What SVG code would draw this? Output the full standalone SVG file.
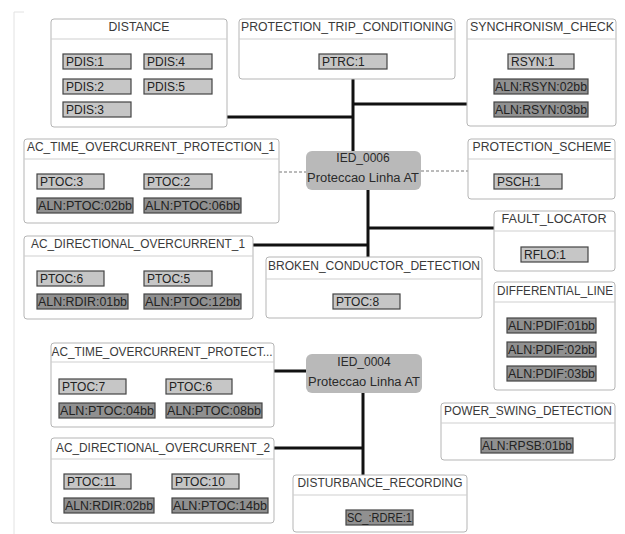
<svg xmlns="http://www.w3.org/2000/svg" width="625" height="534" viewBox="0 0 625 534">
<style>
text{font-family:"Liberation Sans",Arial,sans-serif;fill:#333}
.box{fill:#fff;stroke:#b5b5b5;stroke-width:1}
.div{stroke:#cfcfcf;stroke-width:1}
.title{font-size:12.5px;text-anchor:middle;fill:#3a3a3a}
.chip{fill:#c6c6c6;stroke:#444;stroke-width:1.2}
.aln{fill:#909090;stroke:#444;stroke-width:1.2}
.ct{font-size:12px;fill:#222}
.ied{fill:#b9b9b9}
.it{font-size:12px;text-anchor:middle;fill:#2a2a2a}
.wire{stroke:#111;stroke-width:3;fill:none}
.dash{stroke:#777;stroke-width:1;stroke-dasharray:3,2;fill:none}
</style>
<rect width="625" height="534" fill="#fff"/>
<path d="M14,12 V534 M14,12 H24" stroke="#e2e2e2" stroke-width="1" fill="none"/>
<g id="connectors">
<path class="wire" d="M353,79 V151"/>
<path class="wire" d="M227,117 H353"/>
<path class="wire" d="M353,104 H467"/>
<path class="wire" d="M368,190 V258"/>
<path class="wire" d="M253,245 H368"/>
<path class="wire" d="M368,228 H494"/>
<path class="dash" d="M279,172 H306"/>
<path class="dash" d="M421,171 H468"/>
<path class="wire" d="M274,371 H306"/>
<path class="wire" d="M363,393 V475"/>
<path class="wire" d="M274,448 H363"/>
</g>
<g id="ied_0006">
<rect class="ied" x="306" y="151" width="115" height="39" rx="6"/>
<text class="it" x="363" y="162">IED_0006</text>
<text class="it" x="363" y="182" textLength="112" lengthAdjust="spacingAndGlyphs">Proteccao Linha AT</text>
</g>
<g id="ied_0004">
<rect class="ied" x="306" y="354" width="116" height="39" rx="6"/>
<text class="it" x="364" y="366">IED_0004</text>
<text class="it" x="364" y="386" textLength="112" lengthAdjust="spacingAndGlyphs">Proteccao Linha AT</text>
</g>
<g id="distance">
<rect class="box" x="51" y="19" width="176" height="108" rx="3"/>
<line class="div" x1="51" y1="39" x2="227" y2="39"/>
<text class="title" x="139" y="30.5" textLength="61" lengthAdjust="spacingAndGlyphs">DISTANCE</text>
<rect class="chip" x="63" y="54" width="68" height="15"/><text class="ct" x="66" y="66">PDIS:1</text>
<rect class="chip" x="144" y="54" width="68" height="15"/><text class="ct" x="147" y="66">PDIS:4</text>
<rect class="chip" x="63" y="79" width="68" height="15"/><text class="ct" x="66" y="91">PDIS:2</text>
<rect class="chip" x="144" y="79" width="68" height="15"/><text class="ct" x="147" y="91">PDIS:5</text>
<rect class="chip" x="63" y="102" width="68" height="15"/><text class="ct" x="66" y="114">PDIS:3</text>
</g>
<g id="protection_trip_conditioning">
<rect class="box" x="239" y="19" width="216" height="60" rx="3"/>
<line class="div" x1="239" y1="39" x2="455" y2="39"/>
<text class="title" x="347" y="30.5" textLength="212" lengthAdjust="spacingAndGlyphs">PROTECTION_TRIP_CONDITIONING</text>
<rect class="chip" x="319" y="54" width="68" height="15"/><text class="ct" x="322" y="66">PTRC:1</text>
</g>
<g id="synchronism_check">
<rect class="box" x="467" y="19" width="149" height="107" rx="3"/>
<line class="div" x1="467" y1="39" x2="616" y2="39"/>
<text class="title" x="542" y="30.5" textLength="144" lengthAdjust="spacingAndGlyphs">SYNCHRONISM_CHECK</text>
<rect class="chip" x="508" y="54" width="66" height="15"/><text class="ct" x="511" y="66">RSYN:1</text>
<rect class="aln" x="494" y="79" width="94" height="15"/><text class="ct" x="495" y="91" textLength="92" lengthAdjust="spacingAndGlyphs">ALN:RSYN:02bb</text>
<rect class="aln" x="494" y="102" width="94" height="15"/><text class="ct" x="495" y="114" textLength="92" lengthAdjust="spacingAndGlyphs">ALN:RSYN:03bb</text>
</g>
<g id="ac_time_overcurrent_protection_1">
<rect class="box" x="24" y="139" width="255" height="84" rx="3"/>
<line class="div" x1="24" y1="159" x2="279" y2="159"/>
<text class="title" x="151" y="150.5" textLength="248" lengthAdjust="spacingAndGlyphs">AC_TIME_OVERCURRENT_PROTECTION_1</text>
<rect class="chip" x="37" y="174" width="67" height="15"/><text class="ct" x="40" y="186">PTOC:3</text>
<rect class="chip" x="144" y="174" width="68" height="15"/><text class="ct" x="147" y="186">PTOC:2</text>
<rect class="aln" x="37" y="198" width="96" height="15"/><text class="ct" x="38" y="210" textLength="94" lengthAdjust="spacingAndGlyphs">ALN:PTOC:02bb</text>
<rect class="aln" x="144" y="198" width="97" height="15"/><text class="ct" x="145" y="210" textLength="95" lengthAdjust="spacingAndGlyphs">ALN:PTOC:06bb</text>
</g>
<g id="protection_scheme">
<rect class="box" x="468" y="139" width="147" height="60" rx="3"/>
<line class="div" x1="468" y1="159" x2="615" y2="159"/>
<text class="title" x="542" y="150.5" textLength="139" lengthAdjust="spacingAndGlyphs">PROTECTION_SCHEME</text>
<rect class="chip" x="494" y="174" width="68" height="15"/><text class="ct" x="497" y="186">PSCH:1</text>
</g>
<g id="fault_locator">
<rect class="box" x="494" y="211" width="121" height="60" rx="3"/>
<line class="div" x1="494" y1="231" x2="615" y2="231"/>
<text class="title" x="554" y="222.5" textLength="105" lengthAdjust="spacingAndGlyphs">FAULT_LOCATOR</text>
<rect class="chip" x="521" y="247" width="67" height="15"/><text class="ct" x="524" y="259">RFLO:1</text>
</g>
<g id="ac_directional_overcurrent_1">
<rect class="box" x="24" y="236" width="229" height="83" rx="3"/>
<line class="div" x1="24" y1="256" x2="253" y2="256"/>
<text class="title" x="138" y="247.5" textLength="214" lengthAdjust="spacingAndGlyphs">AC_DIRECTIONAL_OVERCURRENT_1</text>
<rect class="chip" x="37" y="271" width="67" height="15"/><text class="ct" x="40" y="283">PTOC:6</text>
<rect class="chip" x="144" y="271" width="68" height="15"/><text class="ct" x="147" y="283">PTOC:5</text>
<rect class="aln" x="37" y="294" width="91" height="15"/><text class="ct" x="38" y="306" textLength="89" lengthAdjust="spacingAndGlyphs">ALN:RDIR:01bb</text>
<rect class="aln" x="144" y="294" width="97" height="15"/><text class="ct" x="145" y="306" textLength="95" lengthAdjust="spacingAndGlyphs">ALN:PTOC:12bb</text>
</g>
<g id="broken_conductor_detection">
<rect class="box" x="266" y="257" width="216" height="61" rx="3"/>
<line class="div" x1="266" y1="279" x2="482" y2="279"/>
<text class="title" x="374" y="270" textLength="212" lengthAdjust="spacingAndGlyphs">BROKEN_CONDUCTOR_DETECTION</text>
<rect class="chip" x="333" y="294" width="67" height="15"/><text class="ct" x="336" y="306">PTOC:8</text>
</g>
<g id="differential_line">
<rect class="box" x="494" y="282" width="121" height="108" rx="3"/>
<line class="div" x1="494" y1="302" x2="615" y2="302"/>
<text class="title" x="555" y="295" textLength="116" lengthAdjust="spacingAndGlyphs">DIFFERENTIAL_LINE</text>
<rect class="aln" x="507" y="318" width="89" height="15"/><text class="ct" x="508" y="330" textLength="87" lengthAdjust="spacingAndGlyphs">ALN:PDIF:01bb</text>
<rect class="aln" x="507" y="342" width="89" height="15"/><text class="ct" x="508" y="354" textLength="87" lengthAdjust="spacingAndGlyphs">ALN:PDIF:02bb</text>
<rect class="aln" x="507" y="366" width="89" height="15"/><text class="ct" x="508" y="378" textLength="87" lengthAdjust="spacingAndGlyphs">ALN:PDIF:03bb</text>
</g>
<g id="power_swing_detection">
<rect class="box" x="441" y="403" width="174" height="57" rx="3"/>
<line class="div" x1="441" y1="423" x2="615" y2="423"/>
<text class="title" x="528" y="414.5" textLength="168" lengthAdjust="spacingAndGlyphs">POWER_SWING_DETECTION</text>
<rect class="aln" x="481" y="438" width="92" height="15"/><text class="ct" x="482" y="450" textLength="90" lengthAdjust="spacingAndGlyphs">ALN:RPSB:01bb</text>
</g>
<g id="ac_time_overcurrent_protect">
<rect class="box" x="51" y="343" width="223" height="84" rx="3"/>
<line class="div" x1="51" y1="362" x2="274" y2="362"/>
<text class="title" x="162" y="356" textLength="221" lengthAdjust="spacingAndGlyphs">AC_TIME_OVERCURRENT_PROTECT...</text>
<rect class="chip" x="59" y="379" width="67" height="15"/><text class="ct" x="62" y="391">PTOC:7</text>
<rect class="chip" x="166" y="379" width="66" height="15"/><text class="ct" x="169" y="391">PTOC:6</text>
<rect class="aln" x="59" y="403" width="96" height="15"/><text class="ct" x="60" y="415" textLength="94" lengthAdjust="spacingAndGlyphs">ALN:PTOC:04bb</text>
<rect class="aln" x="166" y="403" width="96" height="15"/><text class="ct" x="167" y="415" textLength="94" lengthAdjust="spacingAndGlyphs">ALN:PTOC:08bb</text>
</g>
<g id="ac_directional_overcurrent_2">
<rect class="box" x="51" y="438" width="223" height="85" rx="3"/>
<line class="div" x1="51" y1="459" x2="274" y2="459"/>
<text class="title" x="163" y="451.5" textLength="214" lengthAdjust="spacingAndGlyphs">AC_DIRECTIONAL_OVERCURRENT_2</text>
<rect class="chip" x="64" y="474" width="67" height="15"/><text class="ct" x="67" y="486">PTOC:11</text>
<rect class="chip" x="172" y="474" width="67" height="15"/><text class="ct" x="175" y="486">PTOC:10</text>
<rect class="aln" x="64" y="498" width="90" height="15"/><text class="ct" x="65" y="510" textLength="88" lengthAdjust="spacingAndGlyphs">ALN:RDIR:02bb</text>
<rect class="aln" x="172" y="498" width="96" height="15"/><text class="ct" x="173" y="510" textLength="94" lengthAdjust="spacingAndGlyphs">ALN:PTOC:14bb</text>
</g>
<g id="disturbance_recording">
<rect class="box" x="293" y="475" width="174" height="57" rx="3"/>
<line class="div" x1="293" y1="495" x2="467" y2="495"/>
<text class="title" x="380" y="486.5" textLength="165" lengthAdjust="spacingAndGlyphs">DISTURBANCE_RECORDING</text>
<rect class="aln" x="346" y="510" width="67" height="15"/><text class="ct" x="347" y="522" textLength="65" lengthAdjust="spacingAndGlyphs">SC_:RDRE:1</text>
</g>
</svg>
